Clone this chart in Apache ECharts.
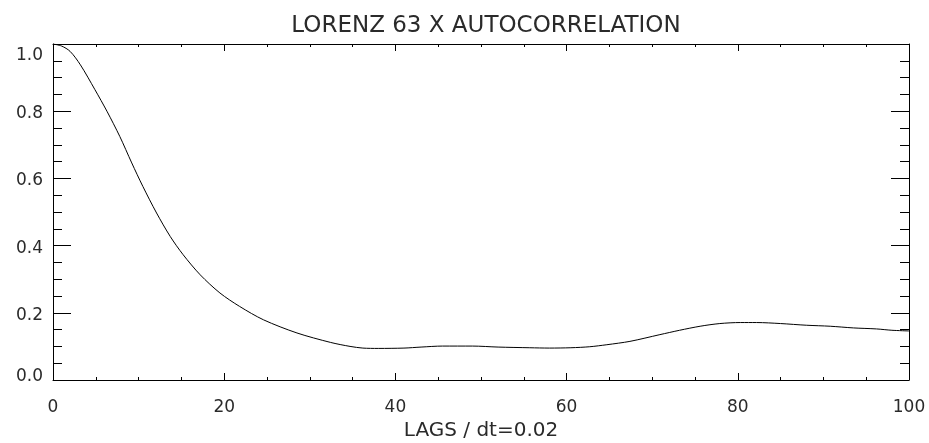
<!DOCTYPE html>
<html lang="en">

<head>
    <meta charset="UTF-8" />
    <title>Lorenz 63 X autocorrelation</title>
    <style>
        html, body {
            margin: 0;
            padding: 0;
            background: #fff;
        }

        #chart {
            width: 929px;
            height: 443px;
        }
    </style>
</head>

<body>
    <div id="chart"></div>

    <script src="https://cdn.jsdelivr.net/npm/echarts@6/dist/echarts.min.js"></script>
    <script>
        // values
        const lags = [0, 1, 2, 3.2, 4.9, 6.3, 7.8, 9.2, 10.5, 12.1, 13.7, 15.2, 17.2, 19.5, 21.8, 24.6, 28.5,
            32.4, 34.7, 36.2, 38, 41, 43, 45.5, 49, 52, 55.7, 58, 60.5, 62.7, 64.7, 67.4, 70.9, 73.2,
            75.6, 77.9, 80.3, 82.2, 85, 88, 90.8, 93.5, 96.2, 98, 100]
        const acf = [1.0, 0.994, 0.978, 0.938, 0.864, 0.80, 0.725, 0.646, 0.576, 0.497, 0.427, 0.373, 0.313, 0.259,
            0.219, 0.179, 0.140, 0.112, 0.100, 0.095, 0.094, 0.095, 0.098, 0.101, 0.101, 0.098, 0.096,
            0.095, 0.096, 0.099, 0.105, 0.115, 0.135, 0.148, 0.160, 0.168, 0.171, 0.171, 0.168, 0.163,
            0.160, 0.155, 0.152, 0.148, 0.146]

        const titleText = 'LORENZ 63 X AUTOCORRELATION'
        const xName = 'LAGS / dt=0.02'

        const font = 'DejaVu Sans'
        const ink = '#2a2a2a'

        const points = lags.map((x, i) => [x, acf[i]])

        // axis pieces shared by bottom/top and left/right
        const xBase = {
            type: 'value', min: 0, max: 100, interval: 20,
            splitLine: { show: false },
            axisLine: { onZero: false, lineStyle: { color: '#000', width: 1 } },
            axisTick: { inside: true, length: 7, lineStyle: { color: '#000' } },
            minorTick: { show: true, splitNumber: 4, length: 3, lineStyle: { color: '#000' } }
        }
        const yBase = {
            type: 'value', min: 0, max: 1, interval: 0.2,
            splitLine: { show: false },
            axisLine: { onZero: false, lineStyle: { color: '#000', width: 1 } },
            axisTick: { inside: true, length: 18, lineStyle: { color: '#000' } },
            minorTick: { show: true, splitNumber: 4, length: 9, lineStyle: { color: '#000' } }
        }

        const labelStyle = { fontFamily: font, fontSize: 17, color: ink }

        const myChart = echarts.init(document.getElementById('chart'), null, { renderer: 'canvas' })
        myChart.setOption({
            animation: false,
            backgroundColor: '#fff',
            title: {
                text: titleText,
                left: 481, top: 10, textAlign: 'center',
                textStyle: { fontFamily: font, fontSize: 23, fontWeight: 'normal', color: ink }
            },
            grid: { left: 53, right: 20, top: 44, bottom: 63, containLabel: false, outerBoundsMode: 'none' },
            xAxis: [
                Object.assign({}, xBase, {
                    position: 'bottom',
                    name: xName, nameLocation: 'middle', nameGap: 40,
                    nameTextStyle: { fontFamily: font, fontSize: 20, color: ink },
                    axisLabel: Object.assign({ margin: 19 }, labelStyle)
                }),
                Object.assign({}, xBase, { position: 'top', axisLabel: { show: false } })
            ],
            yAxis: [
                Object.assign({}, yBase, {
                    position: 'left',
                    axisLabel: Object.assign({
                        margin: 10,
                        formatter: v => {
                            const s = v.toFixed(1)
                            if (s === '1.0') return '{hi|' + s + '}'
                            if (s === '0.0') return '{lo|' + s + '}'
                            return '{mid|' + s + '}'
                        },
                        rich: {
                            hi: Object.assign({ padding: [24, 0, 0, 0] }, labelStyle),
                            mid: Object.assign({ padding: [5, 0, 0, 0] }, labelStyle),
                            lo: Object.assign({ padding: [0, 0, 7, 0] }, labelStyle)
                        }
                    }, labelStyle)
                }),
                Object.assign({}, yBase, { position: 'right', axisLabel: { show: false } })
            ],
            series: [
                {
                    type: 'line',
                    data: points,
                    xAxisIndex: 0,
                    yAxisIndex: 0,
                    smooth: 0.3,
                    showSymbol: false,
                    lineStyle: { color: '#000', width: 1 }
                }
            ]
        })
    </script>
</body>

</html>
